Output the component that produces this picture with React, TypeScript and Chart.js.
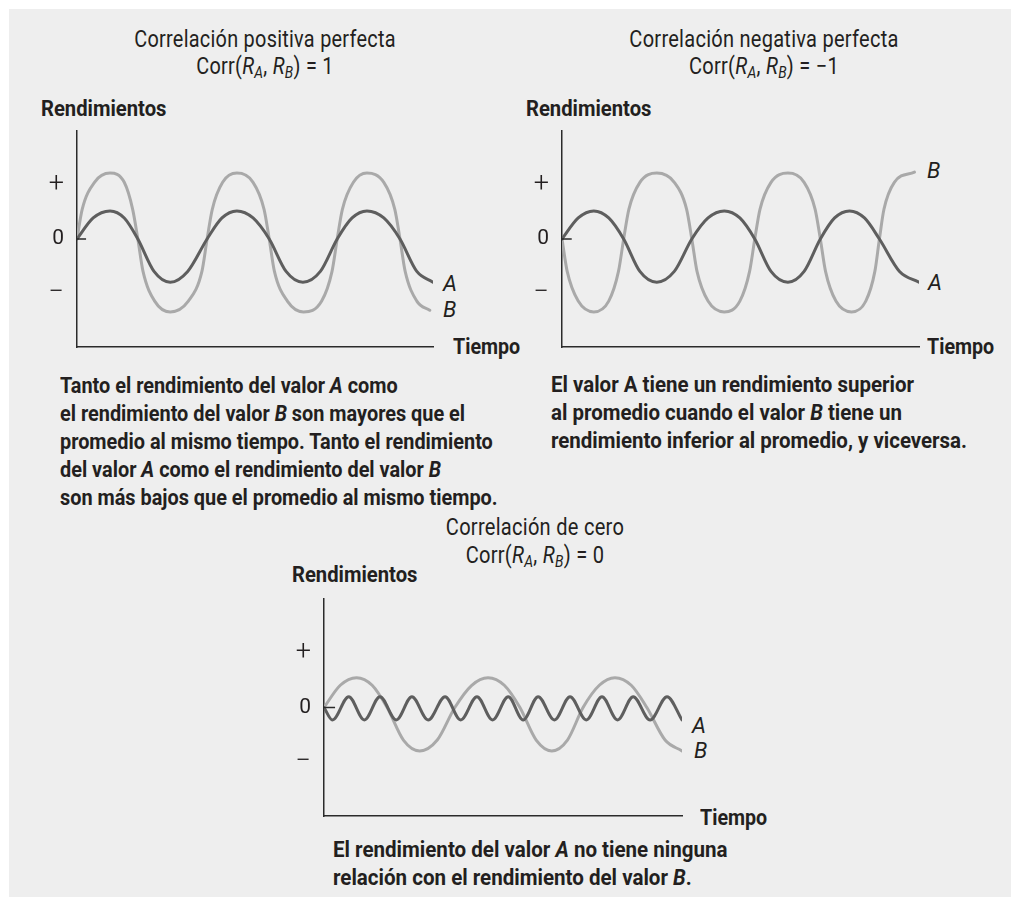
import React, { useEffect, useLayoutEffect, useRef } from "react";
import { Chart, registerables } from "chart.js";

Chart.register(...registerables);

// ---------- data ----------
const Y_TICK_VALUES = [1, 0, -1];
const Y_TICK_LABELS = ["+", "0", "\u2212"];
const ZERO_TICK_Y = [0, 0];

// Panel 1: perfect positive correlation
const P1_A_X = [0, 0.25, 0.51, 0.73, 0.94, 1.19, 1.44, 1.71, 2.01, 2.24, 2.47, 2.72, 2.97, 3.23, 3.49, 3.76, 4.02, 4.25, 4.48, 4.74, 4.99, 5.25, 5.5];
const P1_A_Y = [0, 0.39, 0.52, 0.39, 0, -0.6, -0.8, -0.6, 0, 0.39, 0.52, 0.39, 0, -0.6, -0.8, -0.6, 0, 0.39, 0.52, 0.39, 0, -0.6, -0.8];
const P1_B_X = [0, 0.08, 0.27, 0.51, 0.73, 0.86, 0.94, 1.02, 1.2, 1.44, 1.72, 1.93, 2.01, 2.09, 2.25, 2.47, 2.72, 2.89, 2.97, 3.05, 3.25, 3.5, 3.78, 3.94, 4.02, 4.1, 4.27, 4.48, 4.74, 4.91, 4.99, 5.07, 5.25, 5.45];
const P1_B_Y = [0, 0.55, 1.05, 1.22, 1.05, 0.55, 0, -0.6, -1.15, -1.35, -1.15, -0.6, 0, 0.55, 1.05, 1.22, 1.05, 0.55, 0, -0.6, -1.15, -1.35, -1.15, -0.6, 0, 0.55, 1.05, 1.22, 1.05, 0.55, 0, -0.6, -1.15, -1.32];
const P1_TICK_X = [0, 0.14];

// Panel 2: perfect negative correlation
const P2_A_X = [0, 0.25, 0.49, 0.72, 0.95, 1.2, 1.46, 1.73, 2.0, 2.25, 2.5, 2.74, 2.97, 3.22, 3.48, 3.73, 3.98, 4.2, 4.43, 4.66, 4.89, 5.2, 5.5];
const P2_A_Y = [0, 0.39, 0.52, 0.39, 0, -0.6, -0.8, -0.6, 0, 0.39, 0.52, 0.39, 0, -0.6, -0.8, -0.6, 0, 0.39, 0.52, 0.39, 0, -0.6, -0.8];
const P2_B_X = [0, 0.08, 0.25, 0.49, 0.72, 0.87, 0.95, 1.03, 1.2, 1.46, 1.73, 1.92, 2.0, 2.08, 2.25, 2.5, 2.74, 2.89, 2.97, 3.05, 3.22, 3.48, 3.73, 3.9, 3.98, 4.06, 4.22, 4.46, 4.68, 4.82, 4.89, 4.96, 5.12, 5.43];
const P2_B_Y = [0, -0.6, -1.15, -1.35, -1.15, -0.6, 0, 0.55, 1.05, 1.22, 1.05, 0.55, 0, -0.6, -1.15, -1.35, -1.15, -0.6, 0, 0.55, 1.05, 1.22, 1.05, 0.55, 0, -0.6, -1.15, -1.35, -1.15, -0.6, 0, 0.55, 1.05, 1.24];
const P2_TICK_X = [0, 0.15];

// Panel 3: zero correlation
const P3_A_X = [0, 0.13, 0.38, 0.62, 0.86, 1.11, 1.35, 1.6, 1.86, 2.1, 2.35, 2.59, 2.83, 3.06, 3.29, 3.54, 3.78, 4.03, 4.27, 4.51, 4.75, 5.01, 5.27, 5.5];
const P3_A_Y = [0, -0.23, 0.2, -0.23, 0.2, -0.23, 0.2, -0.23, 0.2, -0.23, 0.2, -0.23, 0.2, -0.23, 0.2, -0.23, 0.2, -0.23, 0.2, -0.23, 0.2, -0.23, 0.2, -0.23];
const P3_B_X = [0, 0.25, 0.5, 0.74, 0.97, 1.22, 1.47, 1.74, 2.01, 2.27, 2.52, 2.77, 3.01, 3.26, 3.5, 3.74, 3.98, 4.23, 4.47, 4.72, 4.96, 5.24, 5.5];
const P3_B_Y = [0, 0.41, 0.55, 0.41, 0, -0.6, -0.8, -0.6, 0, 0.41, 0.55, 0.41, 0, -0.6, -0.8, -0.6, 0, 0.41, 0.55, 0.41, 0, -0.6, -0.8];
const P3_TICK_X = [0, 0.17];

// ---------- styles ----------
const COLOR_A = "#5e5e5e";
const COLOR_B = "#a9a9a9";
const AXIS_COLOR = "#2a2a2a";
const TEXT_COLOR = "#231f20";
const BG = "#eeeeee";
const FONT = "Roboto, 'Liberation Sans', sans-serif";

const pts = (xs: number[], ys: number[]) => xs.map((x, i) => ({ x, y: ys[i] }));

type PanelProps = {
  left: number;
  top: number;
  width: number;
  height: number;
  axisWidth: number;
  padRight: number;
  padTop: number;
  padBottom: number;
  xMax: number;
  zeroTickX: number[];
  a: { x: number[]; y: number[] };
  b: { x: number[]; y: number[] };
};

function Panel(p: PanelProps) {
  const ref = useRef<HTMLCanvasElement>(null);
  useEffect(() => {
    const chart = new Chart(ref.current as HTMLCanvasElement, {
      type: "line",
      data: {
        datasets: [
          { data: pts(p.zeroTickX, ZERO_TICK_Y), borderColor: AXIS_COLOR, borderWidth: 1.5, cubicInterpolationMode: "default", tension: 0, borderCapStyle: "butt" },
          { data: pts(p.a.x, p.a.y), borderColor: COLOR_A, borderWidth: 3 },
          { data: pts(p.b.x, p.b.y), borderColor: COLOR_B, borderWidth: 3 },
        ] as any,
      },
      options: {
        animation: false,
        responsive: false,
        devicePixelRatio: 1,
        events: [],
        layout: { padding: { left: 0, right: p.padRight, top: p.padTop, bottom: p.padBottom } },
        plugins: { legend: { display: false }, tooltip: { enabled: false } },
        elements: {
          point: { radius: 0 },
          line: { cubicInterpolationMode: "monotone", borderCapStyle: "round", fill: false },
        },
        scales: {
          x: {
            type: "linear",
            min: 0,
            max: p.xMax,
            ticks: { display: false },
            grid: { display: false, drawTicks: false },
            border: { display: true, color: AXIS_COLOR, width: 1.5 },
            afterFit: (s: any) => {
              s.height = 0;
            },
          },
          y: {
            type: "linear",
            min: -2,
            max: 2,
            afterBuildTicks: (s: any) => {
              s.ticks = Y_TICK_VALUES.map((v) => ({ value: v }));
            },
            ticks: {
              padding: 13,
              color: TEXT_COLOR,
              font: (ctx: any) => {
                const isSign = ctx.tick && ctx.tick.value !== 0;
                return { family: FONT, weight: isSign ? "300" : "400", size: isSign ? 27 : 21 };
              },
              callback: (v: any) => {
                const i = Y_TICK_VALUES.indexOf(Number(v));
                return i >= 0 ? Y_TICK_LABELS[i] : "";
              },
            },
            grid: { display: false, drawTicks: false },
            border: { display: true, color: AXIS_COLOR, width: 1.5 },
            afterFit: (s: any) => {
              s.width = p.axisWidth;
              s.paddingTop = 0;
              s.paddingBottom = 0;
            },
          },
        },
      } as any,
    });
    return () => chart.destroy();
  }, []);
  return (
    <div style={{ position: "absolute", left: p.left, top: p.top, width: p.width, height: p.height }}>
      <canvas ref={ref} width={p.width} height={p.height} style={{ width: p.width, height: p.height, display: "block" }} />
    </div>
  );
}

// Text block squeezed horizontally to a target width (condensed look)
function FitText(props: { left: number; top: number; target: number; center?: boolean; style: React.CSSProperties; children: React.ReactNode }) {
  const ref = useRef<HTMLDivElement>(null);
  useLayoutEffect(() => {
    const el = ref.current;
    if (!el) return;
    const natural = el.offsetWidth;
    const k = natural > 0 ? props.target / natural : 1;
    el.style.transform = props.center ? `translateX(-50%) scaleX(${k})` : `scaleX(${k})`;
  }, []);
  return (
    <div
      ref={ref}
      style={{
        position: "absolute",
        left: props.left,
        top: props.top,
        whiteSpace: "nowrap",
        fontFamily: FONT,
        color: TEXT_COLOR,
        display: "inline-block",
        transformOrigin: props.center ? "50% 50%" : "0 0",
        textAlign: props.center ? "center" : "left",
        ...props.style,
      }}
    >
      {props.children}
    </div>
  );
}

const txt = (left: number, top: number, content: React.ReactNode, extra: React.CSSProperties = {}) => (
  <div style={{ position: "absolute", left, top, whiteSpace: "nowrap", fontFamily: FONT, color: TEXT_COLOR, ...extra }}>{content}</div>
);

const sub = (s: string) => (
  <sub style={{ fontSize: 16, fontStyle: "italic", verticalAlign: "-4px", lineHeight: 0 }}>{s}</sub>
);
const corr = (val: string) => (
  <span>
    Corr(<i>R</i>
    {sub("A")}, <i>R</i>
    {sub("B")}) = {val}
  </span>
);

const titleStyle: React.CSSProperties = { fontSize: 23, lineHeight: "27px", fontWeight: 400, letterSpacing: "0.3px" };
const boldStyle: React.CSSProperties = { fontSize: 22, lineHeight: "26px", fontWeight: "bold" };
const tiempoStyle: React.CSSProperties = { fontSize: 22, lineHeight: "28px", fontWeight: "bold" };
const capStyle: React.CSSProperties = { fontSize: 22, lineHeight: "28px", fontWeight: "bold" };
const labStyle: React.CSSProperties = { fontSize: 22, lineHeight: "28px", fontStyle: "italic" };

export default function App() {
  return (
    <div style={{ position: "absolute", left: 0, top: 0, width: 1011, height: 897, background: "#ffffff", overflow: "hidden" }}>
      <div style={{ position: "absolute", left: 9, top: 9, width: 1002, height: 888, background: BG }} />

      {/* Panel 1 */}
      <FitText left={265} top={26} target={262} center style={titleStyle}>
        Correlación positiva perfecta<br />{corr("1")}
      </FitText>
      <FitText left={41} top={96} target={125} style={boldStyle}>Rendimientos</FitText>
      <Panel left={27} top={120} width={415} height={240} axisWidth={50} padRight={9} padTop={11} padBottom={13} xMax={5.5} zeroTickX={P1_TICK_X} a={{ x: P1_A_X, y: P1_A_Y }} b={{ x: P1_B_X, y: P1_B_Y }} />
      {txt(443, 270, "A", labStyle)}
      {txt(443, 296, "B", labStyle)}
      <FitText left={453} top={333} target={67} style={tiempoStyle}>Tiempo</FitText>
      <FitText left={60} top={372} target={438} style={capStyle}>
        Tanto el rendimiento del valor <i>A</i> como<br />
        el rendimiento del valor <i>B</i> son mayores que el<br />
        promedio al mismo tiempo. Tanto el rendimiento<br />
        del valor <i>A</i> como el rendimiento del valor <i>B</i><br />
        son más bajos que el promedio al mismo tiempo.
      </FitText>

      {/* Panel 2 */}
      <FitText left={764} top={26} target={269} center style={titleStyle}>
        Correlación negativa perfecta<br />{corr("\u22121")}
      </FitText>
      <FitText left={526} top={96} target={125} style={boldStyle}>Rendimientos</FitText>
      <Panel left={512} top={120} width={415} height={240} axisWidth={50} padRight={8} padTop={11} padBottom={13} xMax={5.5} zeroTickX={P2_TICK_X} a={{ x: P2_A_X, y: P2_A_Y }} b={{ x: P2_B_X, y: P2_B_Y }} />
      {txt(927, 157, "B", labStyle)}
      {txt(928, 269, "A", labStyle)}
      <FitText left={927} top={333} target={67} style={tiempoStyle}>Tiempo</FitText>
      <FitText left={551} top={371} target={416} style={capStyle}>
        El valor A tiene un rendimiento superior<br />
        al promedio cuando el valor <i>B</i> tiene un<br />
        rendimiento inferior al promedio, y viceversa.
      </FitText>

      {/* Panel 3 */}
      <FitText left={535} top={514} target={178} center style={{ ...titleStyle, lineHeight: "28px" }}>
        Correlación de cero<br />{corr("0")}
      </FitText>
      <FitText left={292} top={562} target={125} style={boldStyle}>Rendimientos</FitText>
      <Panel left={274} top={588} width={415} height={240} axisWidth={50} padRight={7} padTop={11} padBottom={12} xMax={5.5} zeroTickX={P3_TICK_X} a={{ x: P3_A_X, y: P3_A_Y }} b={{ x: P3_B_X, y: P3_B_Y }} />
      {txt(692, 712, "A", labStyle)}
      {txt(694, 737, "B", labStyle)}
      <FitText left={700} top={804} target={67} style={tiempoStyle}>Tiempo</FitText>
      <FitText left={333} top={836} target={395} style={capStyle}>
        El rendimiento del valor <i>A</i> no tiene ninguna<br />
        relación con el rendimiento del valor <i>B</i>.
      </FitText>
    </div>
  );
}
